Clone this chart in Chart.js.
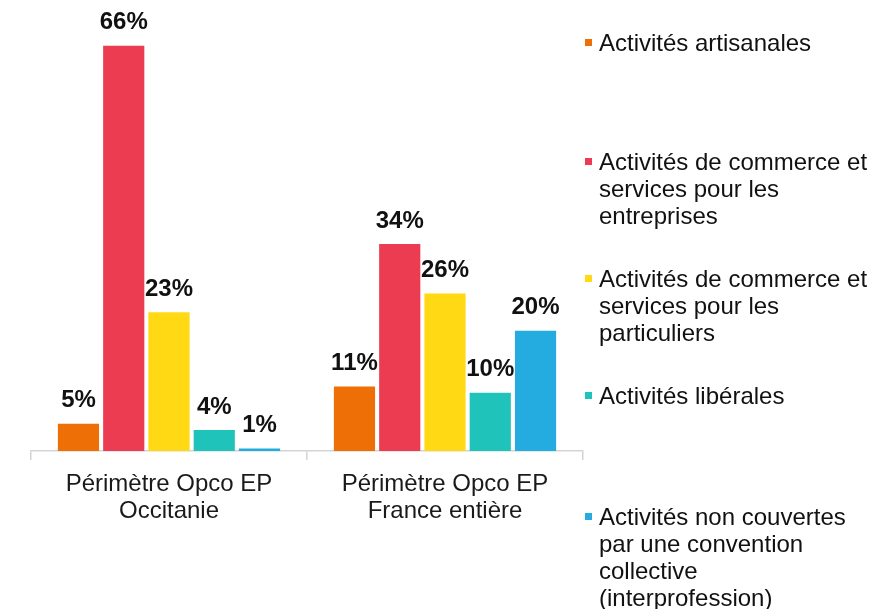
<!DOCTYPE html>
<html>
<head>
<meta charset="utf-8">
<script src="https://cdn.jsdelivr.net/npm/chart.js@4"></script>
<style>
  html, body { margin: 0; padding: 0; background: #fff; }
  #wrap { position: relative; width: 881px; height: 609px; }
  #legend { position: absolute; left: 0; top: 0; font-family: "Liberation Sans", Arial, sans-serif; font-size: 24px; color: #111; }
  .item { position: absolute; left: 585px; width: 296px; line-height: 27px; }
  .item .sw { position: absolute; left: 0; top: 10px; width: 7px; height: 7px; }
  .item .tx { position: absolute; left: 14px; top: 0; white-space: nowrap; }
</style>
</head>
<body>
<div id="wrap">
  <canvas id="c" width="881" height="609"></canvas>
  <div id="legend"></div>
</div>
<script>
const categories = [["Périmètre Opco EP", "Occitanie"], ["Périmètre Opco EP", "France entière"]];
const seriesNames = [
  "Activités artisanales",
  "Activités de commerce et services pour les entreprises",
  "Activités de commerce et services pour les particuliers",
  "Activités libérales",
  "Activités non couvertes par une convention collective (interprofession)"
];
const legendLines = [
  ["Activités artisanales"],
  ["Activités de commerce et", "services pour les", "entreprises"],
  ["Activités de commerce et", "services pour les", "particuliers"],
  ["Activités libérales"],
  ["Activités non couvertes", "par une convention", "collective", "(interprofession)"]
];
const artisanales = [5, 11];
const commerceEntreprises = [66, 34];
const commerceParticuliers = [23, 26];
const liberales = [4, 10];
const nonCouvertes = [1, 20];
const seriesColors = ["#ED6F05", "#EC3C52", "#FFDA14", "#20C3BA", "#24ACE0"];
const legendTops = [29, 148, 265, 382, 503];

const seriesValues = [artisanales, commerceEntreprises, commerceParticuliers, liberales, nonCouvertes];

const labelPlugin = {
  id: 'valueLabels',
  afterDatasetsDraw(chart) {
    const ctx = chart.ctx;
    ctx.save();
    ctx.font = 'bold 24px "Liberation Sans", Arial, sans-serif';
    ctx.fillStyle = '#111';
    ctx.textAlign = 'center';
    ctx.textBaseline = 'middle';
    chart.data.datasets.forEach((ds, i) => {
      const meta = chart.getDatasetMeta(i);
      meta.data.forEach((bar, j) => {
        ctx.fillText(ds.data[j] + '%', bar.x, bar.y - 23);
      });
    });
    ctx.restore();
  }
};

new Chart(document.getElementById('c'), {
  type: 'bar',
  data: {
    labels: categories,
    datasets: seriesValues.map((vals, i) => ({
      label: seriesNames[i],
      data: vals,
      backgroundColor: seriesColors[i],
      borderWidth: 0,
      barPercentage: 0.91,
      categoryPercentage: 0.82
    }))
  },
  options: {
    responsive: false,
    animation: false,
    layout: { padding: { left: 31, right: 298, top: 21, bottom: 0 } },
    plugins: { legend: { display: false }, tooltip: { enabled: false } },
    scales: {
      y: { display: false, min: 0.6, max: 70 },
      x: {
        afterFit(scale) { scale.height = 158; },
        grid: { display: true, drawOnChartArea: false, drawTicks: true, tickLength: 9, color: '#d4d4d4', lineWidth: 1.5 },
        border: { display: true, color: '#d4d4d4', width: 1.5 },
        ticks: {
          color: '#1a1a1a',
          padding: 11,
          maxRotation: 0,
          font: { family: '"Liberation Sans", Arial, sans-serif', size: 24, lineHeight: 1.125 }
        }
      }
    }
  },
  plugins: [labelPlugin]
});

const legend = document.getElementById('legend');
legendLines.forEach((lines, i) => {
  const d = document.createElement('div');
  d.className = 'item';
  d.style.top = legendTops[i] + 'px';
  const sw = document.createElement('div');
  sw.className = 'sw';
  sw.style.background = seriesColors[i];
  const tx = document.createElement('div');
  tx.className = 'tx';
  tx.innerHTML = lines.join('<br>');
  d.appendChild(sw);
  d.appendChild(tx);
  legend.appendChild(d);
});
</script>
</body>
</html>
